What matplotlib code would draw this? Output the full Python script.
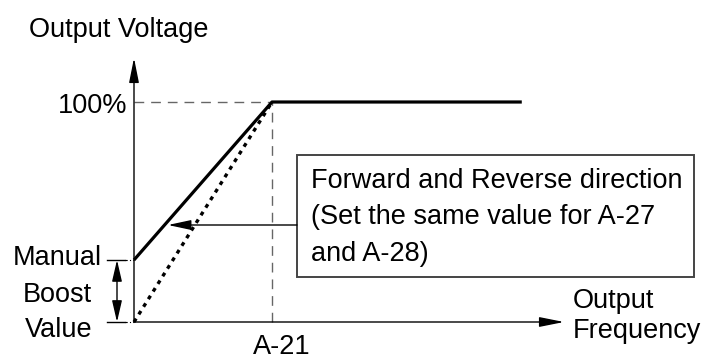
import matplotlib
matplotlib.use("Agg")
import matplotlib.pyplot as plt
from matplotlib.patches import Rectangle

# ---- data (x: frequency relative to A-21, y: output voltage %) ----
base_freq = 1.0            # A-21
max_freq = 2.81            # end of plotted flat segment
rated_voltage = 100.0      # 100%
manual_boost = 28.2        # manual boost value (%)

boost_x = [0.0, base_freq, max_freq]
boost_y = [manual_boost, rated_voltage, rated_voltage]
linear_x = [0.0, base_freq]
linear_y = [0.0, rated_voltage]

x_labels = ["A-21"]
y_labels = ["100%"]
box_lines = ["Forward and Reverse direction",
             "(Set the same value for A-27",
             "and A-28)"]

plt.rcParams['font.family'] = ['Liberation Sans', 'DejaVu Sans']
fs = 19.5

W, H = 703, 361
fig = plt.figure(figsize=(W / 100, H / 100), dpi=100)
ax = fig.add_axes([0, 0, 1, 1])
sx, sy = 138.0, 2.2
ox, oy = 134.0, 322.0
ax.set_xlim(-ox / sx, (W - ox) / sx)
ax.set_ylim((oy - H) / sy, oy / sy)
ax.axis('off')


def px(p):
    return (p - ox) / sx


def py(p):
    return (oy - p) / sy


# axes arrows
ax.annotate("", xy=(px(564), 0), xytext=(0, 0),
            arrowprops=dict(arrowstyle="-|>,head_length=1.5,head_width=0.3",
                            lw=1.0, color="black", shrinkA=0, shrinkB=0))
ax.annotate("", xy=(0, py(58)), xytext=(0, 0),
            arrowprops=dict(arrowstyle="-|>,head_length=1.5,head_width=0.3",
                            lw=1.0, color="black", shrinkA=0, shrinkB=0))

# dashed guides
ax.plot([0, base_freq], [rated_voltage, rated_voltage], color="#666666",
        lw=1.0, ls=(0, (7, 5)))
ax.plot([base_freq, base_freq], [0, rated_voltage], color="#666666",
        lw=1.0, ls=(0, (7, 5)))

# curves
ax.plot(linear_x, linear_y, color="black", lw=2.4, ls=(0, (1.2, 1.5)))
ax.plot(boost_x, boost_y, color="black", lw=2.3, solid_capstyle='butt')

# labels (baseline positioned)
def txt(x, y, s, ha="left"):
    ax.text(x, y, s, ha=ha, va="baseline", fontsize=fs)


txt(px(127), py(113), y_labels[0], ha="right")
txt(base_freq + px(282) - px(272), py(354), x_labels[0], ha="center")
txt(px(29), py(37), "Output Voltage")
txt(px(573), py(308), "Output")
txt(px(573), py(338), "Frequency")
txt(px(102), py(265), "Manual", ha="right")
txt(px(57), py(302), "Boost", ha="center")
txt(px(59), py(337), "Value", ha="center")

# manual boost dimension marker
for yy in (manual_boost, 0):
    ax.plot([px(107), px(125)], [yy, yy], color="black", lw=1.0)
    ax.plot([px(125), 0], [yy, yy], color="black", lw=0.8, ls=(0, (2, 2, 1, 2)))
ax.annotate("", xy=(px(117), 0), xytext=(px(117), manual_boost),
            arrowprops=dict(arrowstyle="<|-|>,head_length=1.3,head_width=0.3",
                            lw=1.0, color="black", shrinkA=0, shrinkB=0))

# annotation box
bx0, bx1 = px(297), px(694)
by0, by1 = py(277), py(155)
ax.add_patch(Rectangle((bx0, by0), bx1 - bx0, by1 - by0, fill=False,
                       ec="#444444", lw=1.4))
for i, line in enumerate(box_lines):
    txt(px(311), py(188 + 36.5 * i), line)
ax.annotate("", xy=(px(168), py(225)), xytext=(bx0, py(225)),
            arrowprops=dict(arrowstyle="-|>,head_length=1.4,head_width=0.3",
                            lw=1.0, color="black", shrinkA=0, shrinkB=0))

fig.savefig("out.png", dpi=100)
